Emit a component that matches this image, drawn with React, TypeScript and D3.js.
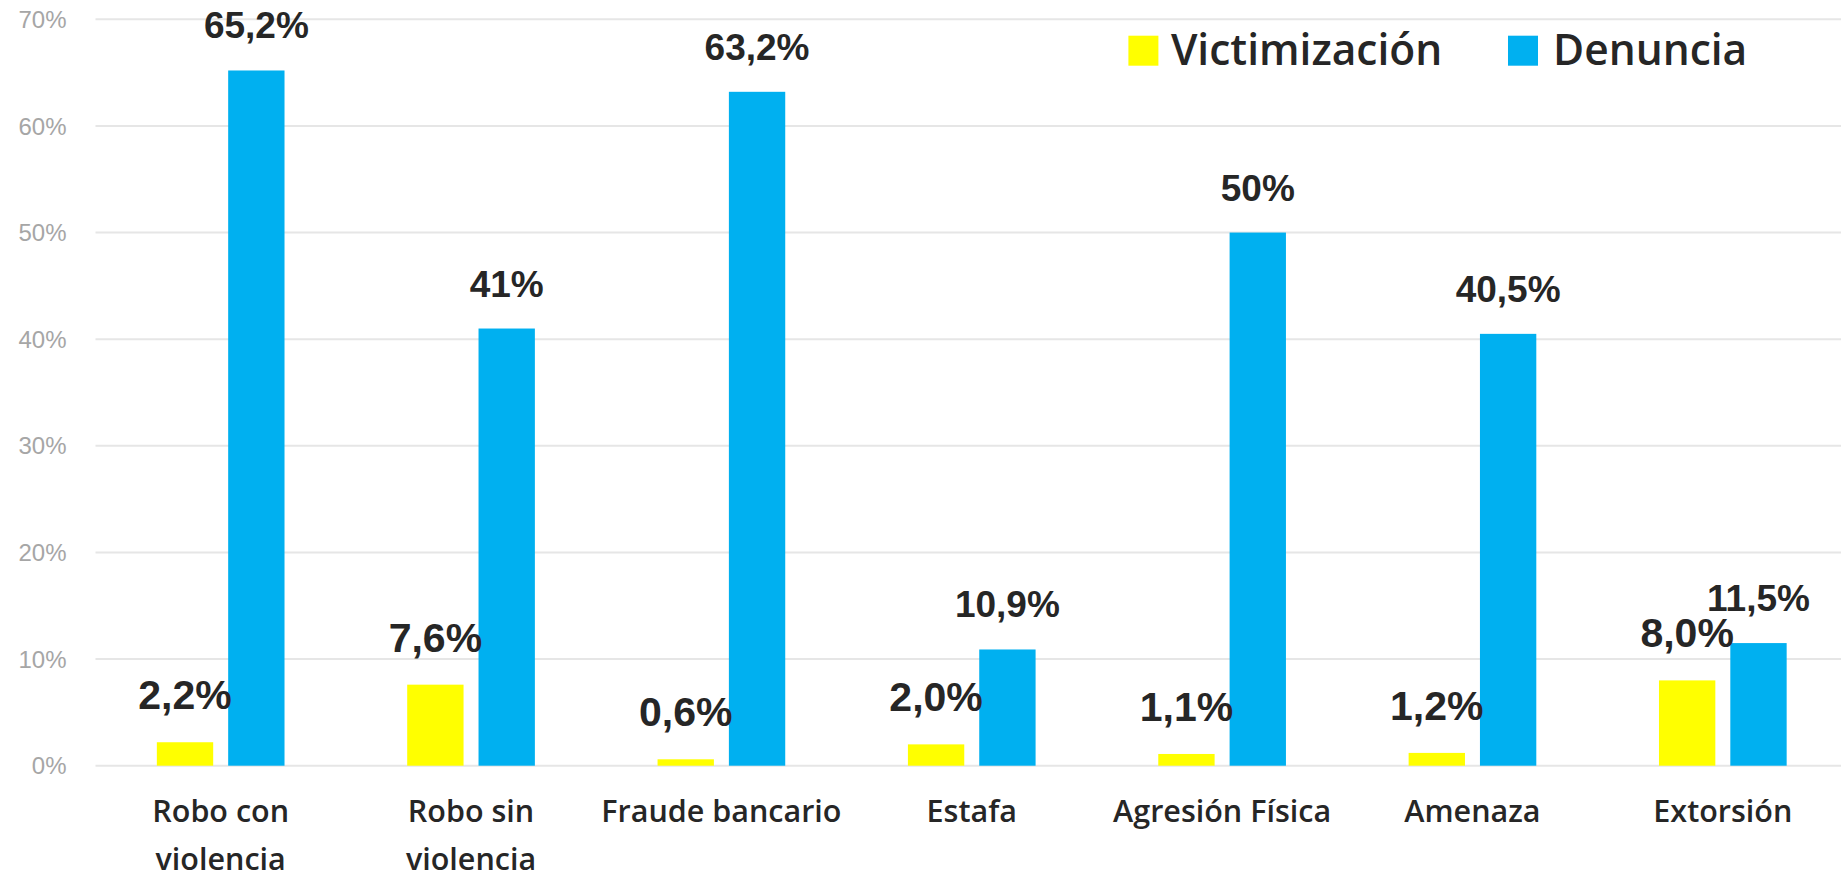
import React from "react";
import * as d3 from "d3";

const categories: string[][] = [
  ["Robo con", "violencia"],
  ["Robo sin", "violencia"],
  ["Fraude bancario"],
  ["Estafa"],
  ["Agresión Física"],
  ["Amenaza"],
  ["Extorsión"],
];
const victimizacion: number[] = [2.2, 7.6, 0.6, 2.0, 1.1, 1.2, 8.0];
const denuncia: number[] = [65.2, 41, 63.2, 10.9, 50, 40.5, 11.5];
const yTicks: number[] = [0, 10, 20, 30, 40, 50, 60, 70];
const seriesNames: string[] = ["Victimización", "Denuncia"];
const seriesColors: string[] = ["#FFFF00", "#00B0F0"];

const W = 1841;
const H = 877;

const fmtVict = (v: number) => v.toFixed(1).replace(".", ",") + "%";
const fmtDen = (v: number) =>
  (Number.isInteger(v) ? String(v) : v.toFixed(1).replace(".", ",")) + "%";

export default function App() {
  const catKeys = categories.map((c) => c.join(" "));
  const x = d3.scaleBand<string>().domain(catKeys).range([95.5, 1848]).padding(0);
  const xs = d3
    .scaleBand<string>()
    .domain(seriesNames)
    .range([0, x.bandwidth()])
    .paddingInner(0.21)
    .paddingOuter(0.86);
  const y = d3.scaleLinear().domain([0, 70]).range([765.7, 19.3]);

  const series = [victimizacion, denuncia];
  const labelFont = "'Liberation Sans', Arial, sans-serif";
  const textFont = "'Open Sans', 'Noto Sans', sans-serif";

  return (
    <svg
      width={W}
      height={H}
      style={{ position: "absolute", left: 0, top: 0, background: "#fff" }}
    >
      {/* gridlines */}
      {yTicks.map((t) => (
        <line
          key={"g" + t}
          x1={95.5}
          x2={W}
          y1={y(t)}
          y2={y(t)}
          stroke="#e6e6e6"
          strokeWidth={2}
        />
      ))}
      {/* y tick labels */}
      {yTicks.map((t) => (
        <text
          key={"t" + t}
          x={66.5}
          y={y(t)}
          dy="0.36em"
          textAnchor="end"
          fontFamily={labelFont}
          fontSize={24}
          fill="#a6a6a6"
        >
          {t + "%"}
        </text>
      ))}
      {/* bars */}
      {series.map((vals, si) =>
        vals.map((v, i) => (
          <rect
            key={"b" + si + "-" + i}
            x={(x(catKeys[i]) as number) + (xs(seriesNames[si]) as number)}
            y={y(v)}
            width={xs.bandwidth()}
            height={y(0) - y(v)}
            fill={seriesColors[si]}
          />
        ))
      )}
      {/* data labels */}
      {series.map((vals, si) =>
        vals.map((v, i) => (
          <text
            key={"l" + si + "-" + i}
            x={
              (x(catKeys[i]) as number) +
              (xs(seriesNames[si]) as number) +
              xs.bandwidth() / 2
            }
            y={y(v) - (si === 0 ? 33 : 32)}
            textAnchor="middle"
            fontFamily={labelFont}
            fontWeight="bold"
            fontSize={si === 0 ? 41 : 37}
            fill="#262626"
          >
            {si === 0 ? fmtVict(v) : fmtDen(v)}
          </text>
        ))
      )}
      {/* x labels */}
      {categories.map((lines, i) => (
        <text
          key={"x" + i}
          x={(x(catKeys[i]) as number) + x.bandwidth() / 2}
          y={822}
          textAnchor="middle"
          fontFamily={textFont}
          fontWeight={600}
          fontSize={30.5}
          fill="#262626"
        >
          {lines.map((ln, j) => (
            <tspan
              key={j}
              x={(x(catKeys[i]) as number) + x.bandwidth() / 2}
              y={822 + j * 48}
            >
              {ln}
            </tspan>
          ))}
        </text>
      ))}
      {/* legend */}
      <rect x={1128.4} y={35.7} width={30} height={30} fill={seriesColors[0]} />
      <text
        x={1170.9}
        y={64.5}
        fontFamily={textFont}
        fontWeight={600}
        fontSize={42.5}
        fill="#262626"
      >
        {seriesNames[0]}
      </text>
      <rect x={1508} y={35.7} width={30} height={30} fill={seriesColors[1]} />
      <text
        x={1553}
        y={64.5}
        fontFamily={textFont}
        fontWeight={600}
        fontSize={42.5}
        fill="#262626"
      >
        {seriesNames[1]}
      </text>
    </svg>
  );
}
